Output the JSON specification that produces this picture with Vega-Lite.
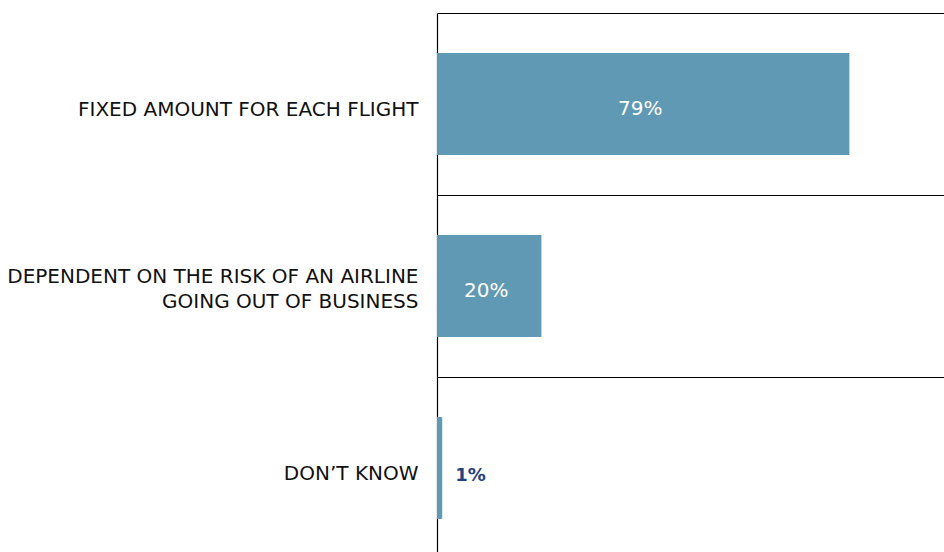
{
  "$schema": "https://vega.github.io/schema/vega-lite/v6.json",
  "width": 507,
  "height": 539,
  "autosize": {"type": "none"},
  "padding": {"left": 437, "top": 13, "right": 0, "bottom": 0},
  "background": "white",
  "config": {"view": {"stroke": null}, "font": "DejaVu Sans"},
  "data": {"values": [
    {"answer": "FIXED AMOUNT FOR EACH FLIGHT", "pct": 79},
    {"answer": "DEPENDENT ON THE RISK OF AN AIRLINE|GOING OUT OF BUSINESS", "pct": 20},
    {"answer": "DON’T KNOW", "pct": 1}
  ]},
  "encoding": {
    "y": {
      "field": "answer", "type": "nominal", "sort": null,
      "scale": {"range": [0, 546], "paddingInner": 0.44, "paddingOuter": 0.22},
      "axis": {
        "title": null, "ticks": false, "domain": true, "domainColor": "#000", "domainWidth": 1.2,
        "grid": true, "gridColor": "#000", "gridWidth": 1.2, "bandPosition": -0.392, "gridOpacity": 1,
        "labelExpr": "split(datum.value, '|')", "labelLineHeight": 25,
        "labelOffset": {"condition": {"test": "indexof(datum.value, '|') >= 0", "value": -9}, "value": 6},
        "labelFontSize": 20, "labelColor": "#111", "labelPadding": 19, "labelLimit": 430,
        "labelFont": "DejaVu Sans"
      }
    }
  },
  "layer": [
    {
      "mark": {"type": "bar", "color": "#5f99b3"},
      "encoding": {
        "x": {"field": "pct", "type": "quantitative", "scale": {"domain": [0, 100], "range": [0, 522], "nice": false}, "axis": null}
      }
    },
    {
      "transform": [{"filter": "datum.pct >= 10"}, {"calculate": "datum.pct / 2", "as": "mid"}, {"calculate": "datum.pct + '%'", "as": "lbl"}],
      "mark": {"type": "text", "color": "white", "fontSize": 20, "align": "center", "baseline": "middle", "dx": -3, "dy": 5},
      "encoding": {
        "x": {"field": "mid", "type": "quantitative", "scale": {"domain": [0, 100], "range": [0, 522], "nice": false}, "axis": null},
        "text": {"field": "lbl"}
      }
    },
    {
      "transform": [{"filter": "datum.pct < 10"}, {"calculate": "datum.pct + '%'", "as": "lbl"}],
      "mark": {"type": "text", "color": "#253f80", "fontSize": 18, "fontWeight": "bold", "align": "left", "baseline": "middle", "dx": 13, "dy": 8},
      "encoding": {
        "x": {"field": "pct", "type": "quantitative", "scale": {"domain": [0, 100], "range": [0, 522], "nice": false}, "axis": null},
        "text": {"field": "lbl"}
      }
    }
  ]
}
